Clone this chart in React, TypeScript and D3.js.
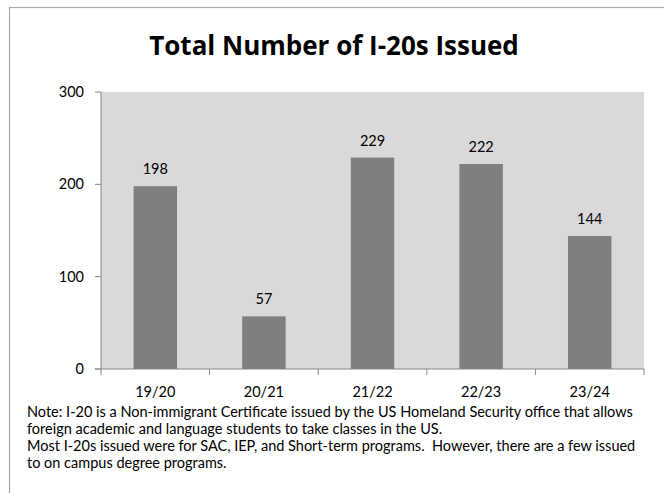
import React from "react";
import * as d3 from "d3";

const categories = ["19/20", "20/21", "21/22", "22/23", "23/24"];
const values = [198, 57, 229, 222, 144];
const yTicks = [0, 100, 200, 300];
const title = "Total Number of I-20s Issued";
const noteLines = [
  "Note: I-20 is a Non-immigrant Certificate issued by the US Homeland Security office that allows",
  "foreign academic and language students to take classes in the US.",
  "Most I-20s issued were for SAC, IEP, and Short-term programs.  However, there are a few issued",
  "to on campus degree programs.",
];

const W = 664;
const H = 493;
const FONT = "Lato, 'Open Sans', sans-serif";

export default function App() {
  const plot = { left: 101, right: 644, top: 92, bottom: 369 };
  const x = d3
    .scaleBand<string>()
    .domain(categories)
    .range([plot.left, plot.right])
    .paddingInner(0.6)
    .paddingOuter(0.3);
  const band = d3.scaleBand<string>().domain(categories).range([plot.left, plot.right]);
  const y = d3.scaleLinear().domain([0, 300]).range([plot.bottom, plot.top]);
  const axisColor = "#868686";

  return (
    <svg
      width={W}
      height={H}
      style={{ position: "absolute", left: 0, top: 0, background: "#fff" }}
      fontFamily={FONT}
    >
      <rect x={9.5} y={7.5} width={W + 10} height={H + 10} fill="#fff" stroke="#ababab" strokeWidth={1.2} />
      <text
        x={334}
        y={55}
        textAnchor="middle"
        fontSize={26}
        fontWeight="bold"
        fill="#000"
        fontFamily="'Open Sans', Lato, sans-serif"
      >
        {title}
      </text>
      <rect
        x={plot.left}
        y={plot.top}
        width={plot.right - plot.left}
        height={plot.bottom - plot.top}
        fill="#d9d9d9"
      />
      {categories.map((c, i) => (
        <g key={c}>
          <rect
            x={x(c)}
            y={y(values[i])}
            width={x.bandwidth()}
            height={y(0) - y(values[i])}
            fill="#7f7f7f"
          />
          <text
            x={(x(c) as number) + x.bandwidth() / 2}
            y={y(values[i]) - 12}
            textAnchor="middle"
            fontSize={14.5}
            fill="#000"
          >
            {values[i]}
          </text>
          <text
            x={(band(c) as number) + band.bandwidth() / 2}
            y={397}
            textAnchor="middle"
            fontSize={14.5}
            fill="#000"
          >
            {c}
          </text>
        </g>
      ))}
      <line x1={plot.left} x2={plot.left} y1={plot.top} y2={plot.bottom} stroke={axisColor} strokeWidth={1} />
      <line x1={plot.left - 6} x2={plot.right} y1={plot.bottom} y2={plot.bottom} stroke={axisColor} strokeWidth={1} />
      {yTicks.map((t) => (
        <g key={t}>
          <line x1={plot.left - 6} x2={plot.left} y1={y(t)} y2={y(t)} stroke={axisColor} />
          <text x={84} y={y(t) + 5} textAnchor="end" fontSize={14.5} fill="#000">
            {t}
          </text>
        </g>
      ))}
      {[...categories.map((c) => band(c) as number), plot.right].map((bx, i) => (
        <line key={i} x1={bx} x2={bx} y1={plot.bottom} y2={plot.bottom + 6} stroke={axisColor} />
      ))}
      {noteLines.map((l, i) => (
        <text key={i} x={27} y={417 + i * 17} fontSize={14.5} fill="#000" style={{ whiteSpace: "pre" }}>
          {l}
        </text>
      ))}
    </svg>
  );
}
